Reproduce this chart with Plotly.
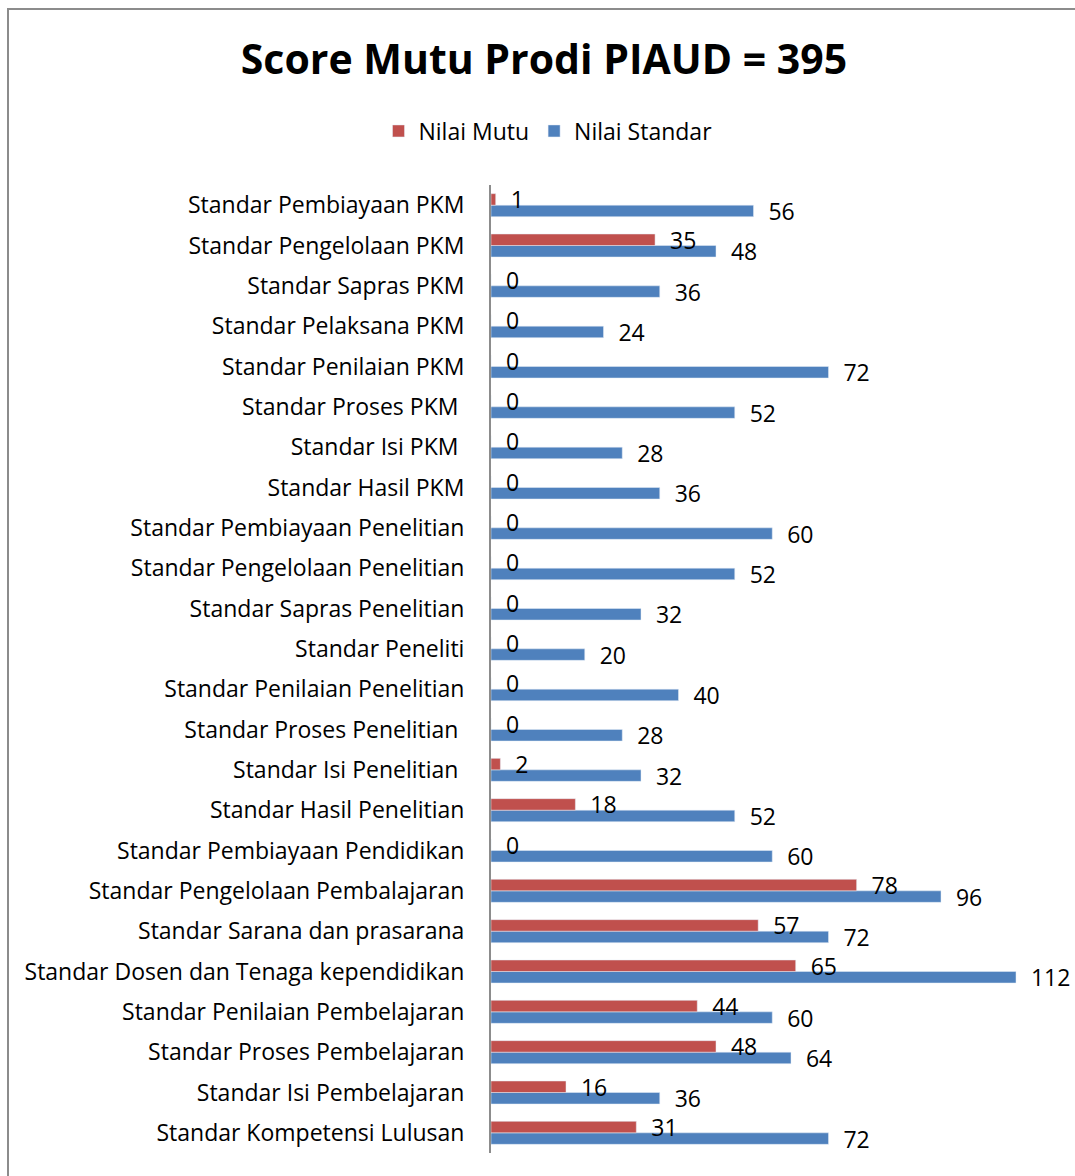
import plotly.graph_objects as go

NB = "\u00a0"
categories = [
    "Standar Kompetensi Lulusan",
    "Standar Isi Pembelajaran",
    "Standar Proses Pembelajaran",
    "Standar Penilaian Pembelajaran",
    "Standar Dosen dan Tenaga kependidikan",
    "Standar Sarana dan prasarana",
    "Standar Pengelolaan Pembalajaran",
    "Standar Pembiayaan Pendidikan",
    "Standar Hasil Penelitian",
    "Standar Isi Penelitian" + NB,
    "Standar Proses Penelitian" + NB,
    "Standar Penilaian Penelitian",
    "Standar Peneliti",
    "Standar Sapras Penelitian",
    "Standar Pengelolaan Penelitian",
    "Standar Pembiayaan Penelitian",
    "Standar Hasil PKM",
    "Standar Isi PKM" + NB,
    "Standar Proses PKM" + NB,
    "Standar Penilaian PKM",
    "Standar Pelaksana PKM",
    "Standar Sapras PKM",
    "Standar Pengelolaan PKM",
    "Standar Pembiayaan PKM",
]
nilai_mutu = [31, 16, 48, 44, 65, 57, 78, 0, 18, 2, 0, 0, 0, 0, 0, 0, 0, 0, 0, 0, 0, 0, 35, 1]
nilai_standar = [72, 36, 64, 60, 112, 72, 96, 60, 52, 32, 28, 40, 20, 32, 52, 60, 36, 28, 52, 72, 24, 36, 48, 56]

FONT = "Open Sans"
FS = 23
RED = "#C0504D"
BLUE = "#4F81BD"

W, H = 1075, 1176
L, R, T, B = 491, 20, 185, 23
PW = W - L - R
PH = H - T - B

fig = go.Figure()
fig.add_trace(go.Bar(
    y=categories, x=nilai_standar, orientation="h", name="Nilai Standar",
    marker=dict(color=BLUE), legendrank=2,
    text=nilai_standar, texttemplate=NB * 2 + "%{x}", textposition="outside",
    constraintext="none",
    textfont=dict(family=FONT, size=FS, color="black"), cliponaxis=False,
))
fig.add_trace(go.Bar(
    y=categories, x=nilai_mutu, orientation="h", name="Nilai Mutu",
    marker=dict(color=RED), legendrank=1,
    text=nilai_mutu, texttemplate=NB * 2 + "%{x}", textposition="outside",
    constraintext="none",
    textfont=dict(family=FONT, size=FS, color="black"), cliponaxis=False,
))

fig.update_layout(
    width=W, height=H,
    margin=dict(l=L, r=R, t=T, b=B),
    paper_bgcolor="white", plot_bgcolor="white",
    barmode="group", bargap=0.43, bargroupgap=0,
    font=dict(family=FONT, size=FS, color="black"),
    title=dict(text="<b>Score Mutu Prodi PIAUD = 395</b>", x=544 / W, xref="container",
               y=1 - 60 / H, yref="container", xanchor="center", yanchor="middle",
               font=dict(family=FONT, size=41, color="black")),
    legend=dict(orientation="h", x=548 / W, xref="container", xanchor="center",
                y=1 - 131 / H, yref="container", yanchor="middle",
                font=dict(family=FONT, size=FS), itemwidth=30, traceorder="normal"),
    showlegend=True,
    xaxis=dict(range=[0, PW / 4.6875], visible=False, showgrid=False, zeroline=False),
    yaxis=dict(showgrid=False, showline=True, linecolor="#8c8c8c", linewidth=2,
               ticks="", ticklabelstandoff=20, tickfont=dict(family=FONT, size=FS),
               categoryorder="array", categoryarray=categories),
    shapes=[dict(type="rect", xref="paper", yref="paper",
                 x0=(8 - L) / PW, x1=2, y0=-1, y1=(PH + T - 9) / PH,
                 line=dict(color="#8c8c8c", width=2), fillcolor="rgba(0,0,0,0)")],
)

fig.write_html(
    "out.html",
    config={"displayModeBar": False},
    post_script="document.body.style.margin='0';document.body.style.overflow='hidden';",
)
